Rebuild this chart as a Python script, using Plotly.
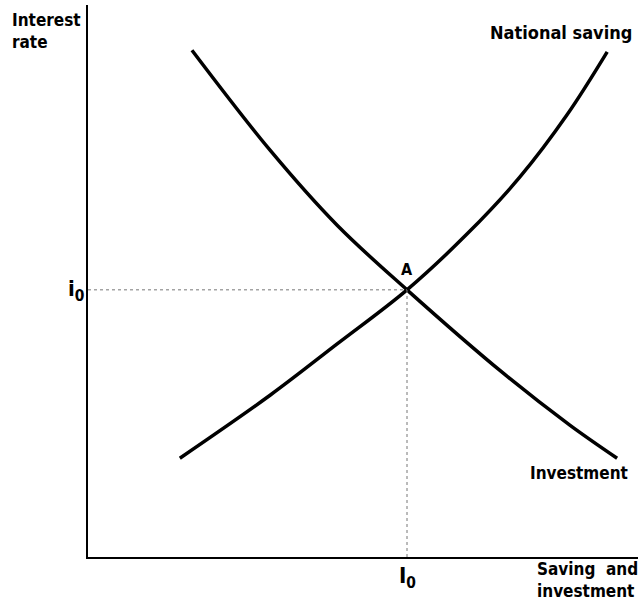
import plotly.graph_objects as go

# Data (arbitrary units 0-100)
saving_x = [16.7, 33.1, 45.3, 58.0, 68.9, 78.5, 87.1, 94.4]
saving_y = [17.9, 29.3, 38.6, 48.4, 58.5, 68.8, 80.1, 91.5]
invest_x = [18.9, 33.1, 45.3, 58.0, 75.5, 87.6, 96.2]
invest_y = [91.8, 73.7, 60.1, 48.4, 33.3, 23.9, 17.9]
eq_x = 58.0
eq_y = 48.4

FONT = "DejaVu Sans Condensed"

fig = go.Figure()
fig.add_trace(go.Scatter(x=saving_x, y=saving_y, mode="lines",
                         line=dict(color="black", width=3.5, shape="spline", smoothing=1.0),
                         name="National saving", hoverinfo="skip"))
fig.add_trace(go.Scatter(x=invest_x, y=invest_y, mode="lines",
                         line=dict(color="black", width=3.5, shape="spline", smoothing=1.0),
                         name="Investment", hoverinfo="skip"))

# dotted guide lines
fig.add_shape(type="line", x0=0, x1=eq_x, y0=eq_y, y1=eq_y, xref="x", yref="y",
              line=dict(color="#777", width=1, dash="dot"))
fig.add_shape(type="line", x0=eq_x, x1=eq_x, y0=0, y1=eq_y, xref="x", yref="y",
              line=dict(color="#777", width=1, dash="dot"))

font = dict(family=FONT, size=17, color="black", weight="bold")
big = dict(family=FONT, size=22, color="black", weight="bold")
anns = [
    dict(text="Interest<br>rate", x=0, y=1, xref="paper", yref="paper",
         xanchor="left", yanchor="top", xshift=-78, yshift=-3, align="left"),
    dict(text="National saving", x=1, y=1, xref="paper", yref="paper",
         xanchor="right", yanchor="top", xshift=-4, yshift=-15, align="right",
         font=dict(family=FONT, size=18, color="black", weight="bold")),
    dict(text="Investment", x=1, y=0, xref="paper", yref="paper",
         xanchor="right", yanchor="top", xshift=-8, yshift=96),
    dict(text="Saving  and<br>investment", x=1, y=0, xref="paper", yref="paper",
         xanchor="right", yanchor="top", xshift=2, yshift=0, align="left"),
    dict(text="A", x=eq_x, y=eq_y, xref="x", yref="y",
         xanchor="center", yanchor="bottom", xshift=0, yshift=9,
         font=dict(family=FONT, size=16, color="black", weight="bold")),
    dict(text="i<sub>0</sub>", x=0, y=eq_y, xref="paper", yref="y",
         xanchor="right", yanchor="middle", xshift=-2, yshift=-1, font=big),
    dict(text="I<sub>0</sub>", x=eq_x, y=0, xref="x", yref="paper",
         xanchor="center", yanchor="top", xshift=0, yshift=-4, font=big),
]
for a in anns:
    a.setdefault("font", font)
    a["showarrow"] = False
    fig.add_annotation(**a)

fig.update_layout(
    width=642, height=600,
    margin=dict(l=88, r=4, t=5, b=43),
    paper_bgcolor="white", plot_bgcolor="white",
    showlegend=False,
    xaxis=dict(range=[0, 100], showgrid=False, zeroline=False, showticklabels=False,
               ticks="", showline=True, linecolor="black", linewidth=2),
    yaxis=dict(range=[0, 100], showgrid=False, zeroline=False, showticklabels=False,
               ticks="", showline=True, linecolor="black", linewidth=2),
)
fig.write_html("out.html", config={"displayModeBar": False},
               post_script="document.body.style.margin='0';document.body.style.overflow='hidden';")
